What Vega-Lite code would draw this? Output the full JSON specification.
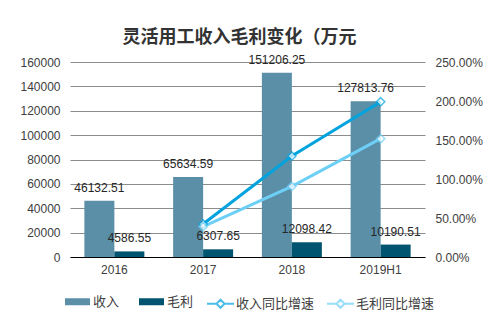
{
  "$schema": "https://vega.github.io/schema/vega-lite/v6.json",
  "width": 355,
  "height": 195,
  "autosize": {"type": "none"},
  "padding": {"left": 70, "top": 62, "right": 76, "bottom": 70},
  "background": "white",
  "title": {
    "text": "灵活用工收入毛利变化（万元",
    "anchor": "middle",
    "dx": -8,
    "offset": 7,
    "font": "Noto Sans CJK SC",
    "fontSize": 18,
    "fontWeight": "bold",
    "color": "#333333"
  },
  "config": {
    "view": {"stroke": null},
    "font": "Liberation Sans, Noto Sans CJK SC",
    "axis": {"labelFont": "Liberation Sans", "labelFontSize": 12, "labelColor": "#404040", "titleFontSize": 12},
    "legend": {"labelFont": "Liberation Sans, Noto Sans CJK SC", "labelFontSize": 13, "labelColor": "#404040", "padding": 0}
  },
  "datasets": {
    "bars": [
      {"year": "2016", "series": "收入", "value": 46132.51, "label": "46132.51"},
      {"year": "2016", "series": "毛利", "value": 4586.55, "label": "4586.55"},
      {"year": "2017", "series": "收入", "value": 65634.59, "label": "65634.59"},
      {"year": "2017", "series": "毛利", "value": 6307.65, "label": "6307.65"},
      {"year": "2018", "series": "收入", "value": 151206.25, "label": "151206.25"},
      {"year": "2018", "series": "毛利", "value": 12098.42, "label": "12098.42"},
      {"year": "2019H1", "series": "收入", "value": 127813.76, "label": "127813.76"},
      {"year": "2019H1", "series": "毛利", "value": 10190.51, "label": "10190.51"}
    ],
    "rates": [
      {"year": "2017", "series": "收入同比增速", "rate": 0.4227},
      {"year": "2018", "series": "收入同比增速", "rate": 1.2937},
      {"year": "2019H1", "series": "收入同比增速", "rate": 1.99},
      {"year": "2017", "series": "毛利同比增速", "rate": 0.3887},
      {"year": "2018", "series": "毛利同比增速", "rate": 0.906},
      {"year": "2019H1", "series": "毛利同比增速", "rate": 1.517}
    ]
  },
  "encoding": {
    "x": {
      "field": "year",
      "type": "nominal",
      "sort": ["2016", "2017", "2018", "2019H1"],
      "scale": {"domain": ["2016", "2017", "2018", "2019H1"], "paddingInner": 0.324, "paddingOuter": 0.162},
      "axis": {"title": null, "labelAngle": 0, "ticks": false, "domain": true, "domainColor": "#000000", "domainWidth": 1, "labelPadding": 7, "grid": false}
    }
  },
  "layer": [
    {
      "data": {"name": "bars"},
      "encoding": {
        "xOffset": {"field": "series", "type": "nominal", "sort": ["收入", "毛利"], "scale": {"paddingInner": 0, "paddingOuter": 0}},
        "y": {
          "field": "value",
          "type": "quantitative",
          "scale": {"domain": [0, 160000], "nice": false},
          "axis": {"title": null, "values": [0, 20000, 40000, 60000, 80000, 100000, 120000, 140000, 160000], "format": "d", "grid": true, "gridColor": "#8c8c8c", "gridWidth": 1, "domain": false, "ticks": false, "labelPadding": 10}
        }
      },
      "layer": [
        {
          "mark": {"type": "bar"},
          "encoding": {
            "fill": {
              "field": "series",
              "type": "nominal",
              "sort": ["收入", "毛利"],
              "scale": {"domain": ["收入", "毛利"], "range": ["#5B8FA8", "#00546F"]},
              "legend": {
                "title": null,
                "orient": "none",
                "direction": "horizontal",
                "legendX": -5,
                "legendY": 227,
                "symbolType": "M-1,-0.28H1V0.28H-1Z",
                "symbolSize": 625,
                "symbolStrokeWidth": 0,
                "labelOffset": 3,
                "columnPadding": 19
              }
            }
          }
        },
        {
          "mark": {"type": "text", "baseline": "middle", "dy": -13, "fontSize": 12, "font": "Liberation Sans", "color": "#262626"},
          "encoding": {"text": {"field": "label", "type": "nominal"}}
        }
      ]
    },
    {
      "data": {"name": "rates"},
      "encoding": {
        "y": {
          "field": "rate",
          "type": "quantitative",
          "scale": {"domain": [0, 2.5], "nice": false},
          "axis": {"title": null, "orient": "right", "values": [0, 0.5, 1, 1.5, 2, 2.5], "format": ".2%", "grid": false, "domain": false, "ticks": false, "labelPadding": 10}
        },
        "stroke": {
          "field": "series",
          "type": "nominal",
          "sort": ["收入同比增速", "毛利同比增速"],
          "scale": {"domain": ["收入同比增速", "毛利同比增速"], "range": ["#00A3DD", "#6ECFF6"]},
          "legend": {
            "title": null,
            "orient": "none",
            "direction": "horizontal",
            "legendX": 136,
            "legendY": 227,
            "symbolType": "M-1,0H-0.3M0.3,0H1M0,-0.3L0.3,0L0,0.3L-0.3,0Z",
            "symbolSize": 729,
            "symbolFillColor": "white",
            "symbolStrokeWidth": 2,
            "labelOffset": 1,
            "columnPadding": 8
          }
        }
      },
      "layer": [
        {"mark": {"type": "line", "strokeWidth": 3}},
        {"mark": {"type": "point", "shape": "diamond", "filled": true, "fill": "white", "size": 70, "strokeWidth": 1.5}}
      ]
    }
  ],
  "resolve": {"scale": {"y": "independent", "fill": "independent", "stroke": "independent"}}
}
